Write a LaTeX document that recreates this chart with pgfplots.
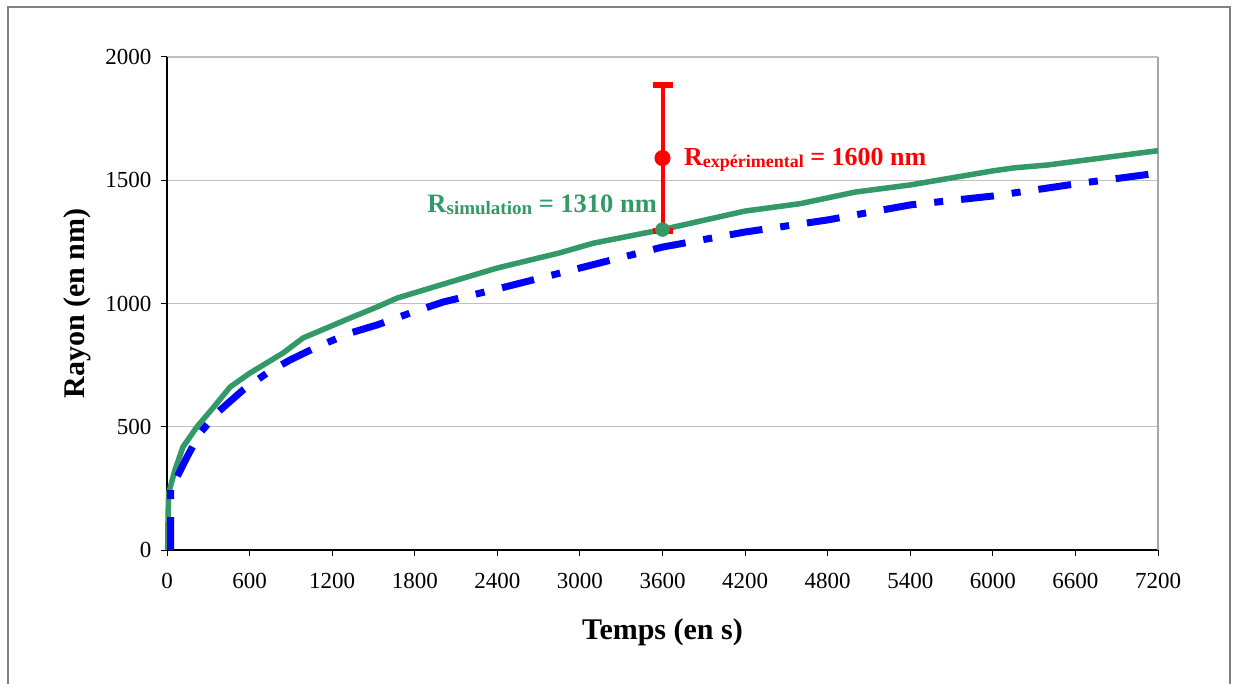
\documentclass[border=0pt]{standalone}
\usepackage{fontspec}
\setmainfont{Liberation Serif}
\usepackage{pgfplots}
\pgfplotsset{compat=1.18}
\definecolor{simgreen}{RGB}{51,153,102}
\begin{document}
\begin{tikzpicture}[x=1pt,y=1pt]
\path[use as bounding box] (0,0) rectangle (1238,-684);
\draw[line width=2pt, black!50] (8,-7) rectangle (1230,-700);
\begin{axis}[
 at={(167pt,-550pt)}, anchor=south west,
 scale only axis, width=991pt, height=493pt,
 xmin=0, xmax=7200, ymin=0, ymax=2000,
 xtick={0,600,...,7200}, ytick={0,500,...,2000},
 axis x line*=bottom, axis y line*=left,
 axis line style={line width=1.5pt, black},
 ymajorgrids, grid style={line width=1.2pt, black!25},
 tick align=outside, major tick length=6pt, tick style={line width=1pt, black},
 scaled ticks=false,
 /pgf/number format/1000 sep={},
 /pgf/number format/assume math mode=true,
 tick label style={font=\fontsize{23}{23}\selectfont},
 xticklabel style={yshift=-14pt},
 yticklabel style={xshift=-6pt},
 xlabel={Temps (en s)}, ylabel={Rayon (en nm)},
 label style={font=\fontsize{30}{30}\selectfont\bfseries},
 xlabel style={at={(axis description cs:0.5,-0.166)}, anchor=center},
 ylabel style={at={(axis description cs:-0.09,0.5)}, anchor=center},
 clip=false,
]
\draw[line width=1.5pt, black!35] (rel axis cs:1,0) -- (rel axis cs:1,1);
\addplot[simgreen, line width=5.5pt, line join=round] coordinates {
(5,0) (8,150) (12,231) (58,325) (116,418) (218,500) (334,576) (458,661) (603,718)
(843,799) (988,860) (1330,941) (1526,986) (1672,1022) (2057,1087) (2400,1144)
(2850,1205) (3100,1245) (3600,1300) (4200,1375) (4600,1405) (5000,1452)
(5400,1481) (6000,1538) (6150,1550) (6400,1562) (7200,1620)};
\addplot[blue, line width=7pt, dash pattern=on 33pt off 18pt on 9pt off 18pt] coordinates {
(27,0) (27,284) (73,296) (145,377) (240,474) (363,556) (552,649) (727,718)
(894,771) (1090,824) (1330,880) (1526,913) (1766,961) (2006,1006) (2400,1059)
(3000,1144) (3600,1229) (4200,1290) (4800,1339) (5400,1400) (6000,1436)
(6600,1485) (7200,1529)};
\addplot[red, line width=4pt, mark=*, mark size=6pt,
 error bars/.cd, y dir=both, y explicit,
 error bar style={line width=4pt, red},
 error mark options={line width=6pt, red, mark size=10pt, rotate=90}]
 coordinates {(3600,1590) +- (0,296)};
\addplot[simgreen, only marks, mark=*, mark size=7pt] coordinates {(3600,1300)};
\node[anchor=base west, red, font=\bfseries\fontsize{26}{26}\selectfont, inner sep=0pt]
 at (axis cs:3755,1558) {R\raisebox{-2pt}{\fontsize{18}{18}\selectfont expérimental} = 1600 nm};
\node[anchor=base east, simgreen, font=\bfseries\fontsize{26.5}{26}\selectfont, inner sep=0pt]
 at (axis cs:3561,1371) {R\raisebox{-2pt}{\fontsize{19}{19}\selectfont simulation} = 1310 nm};
\end{axis}
\end{tikzpicture}
\end{document}
